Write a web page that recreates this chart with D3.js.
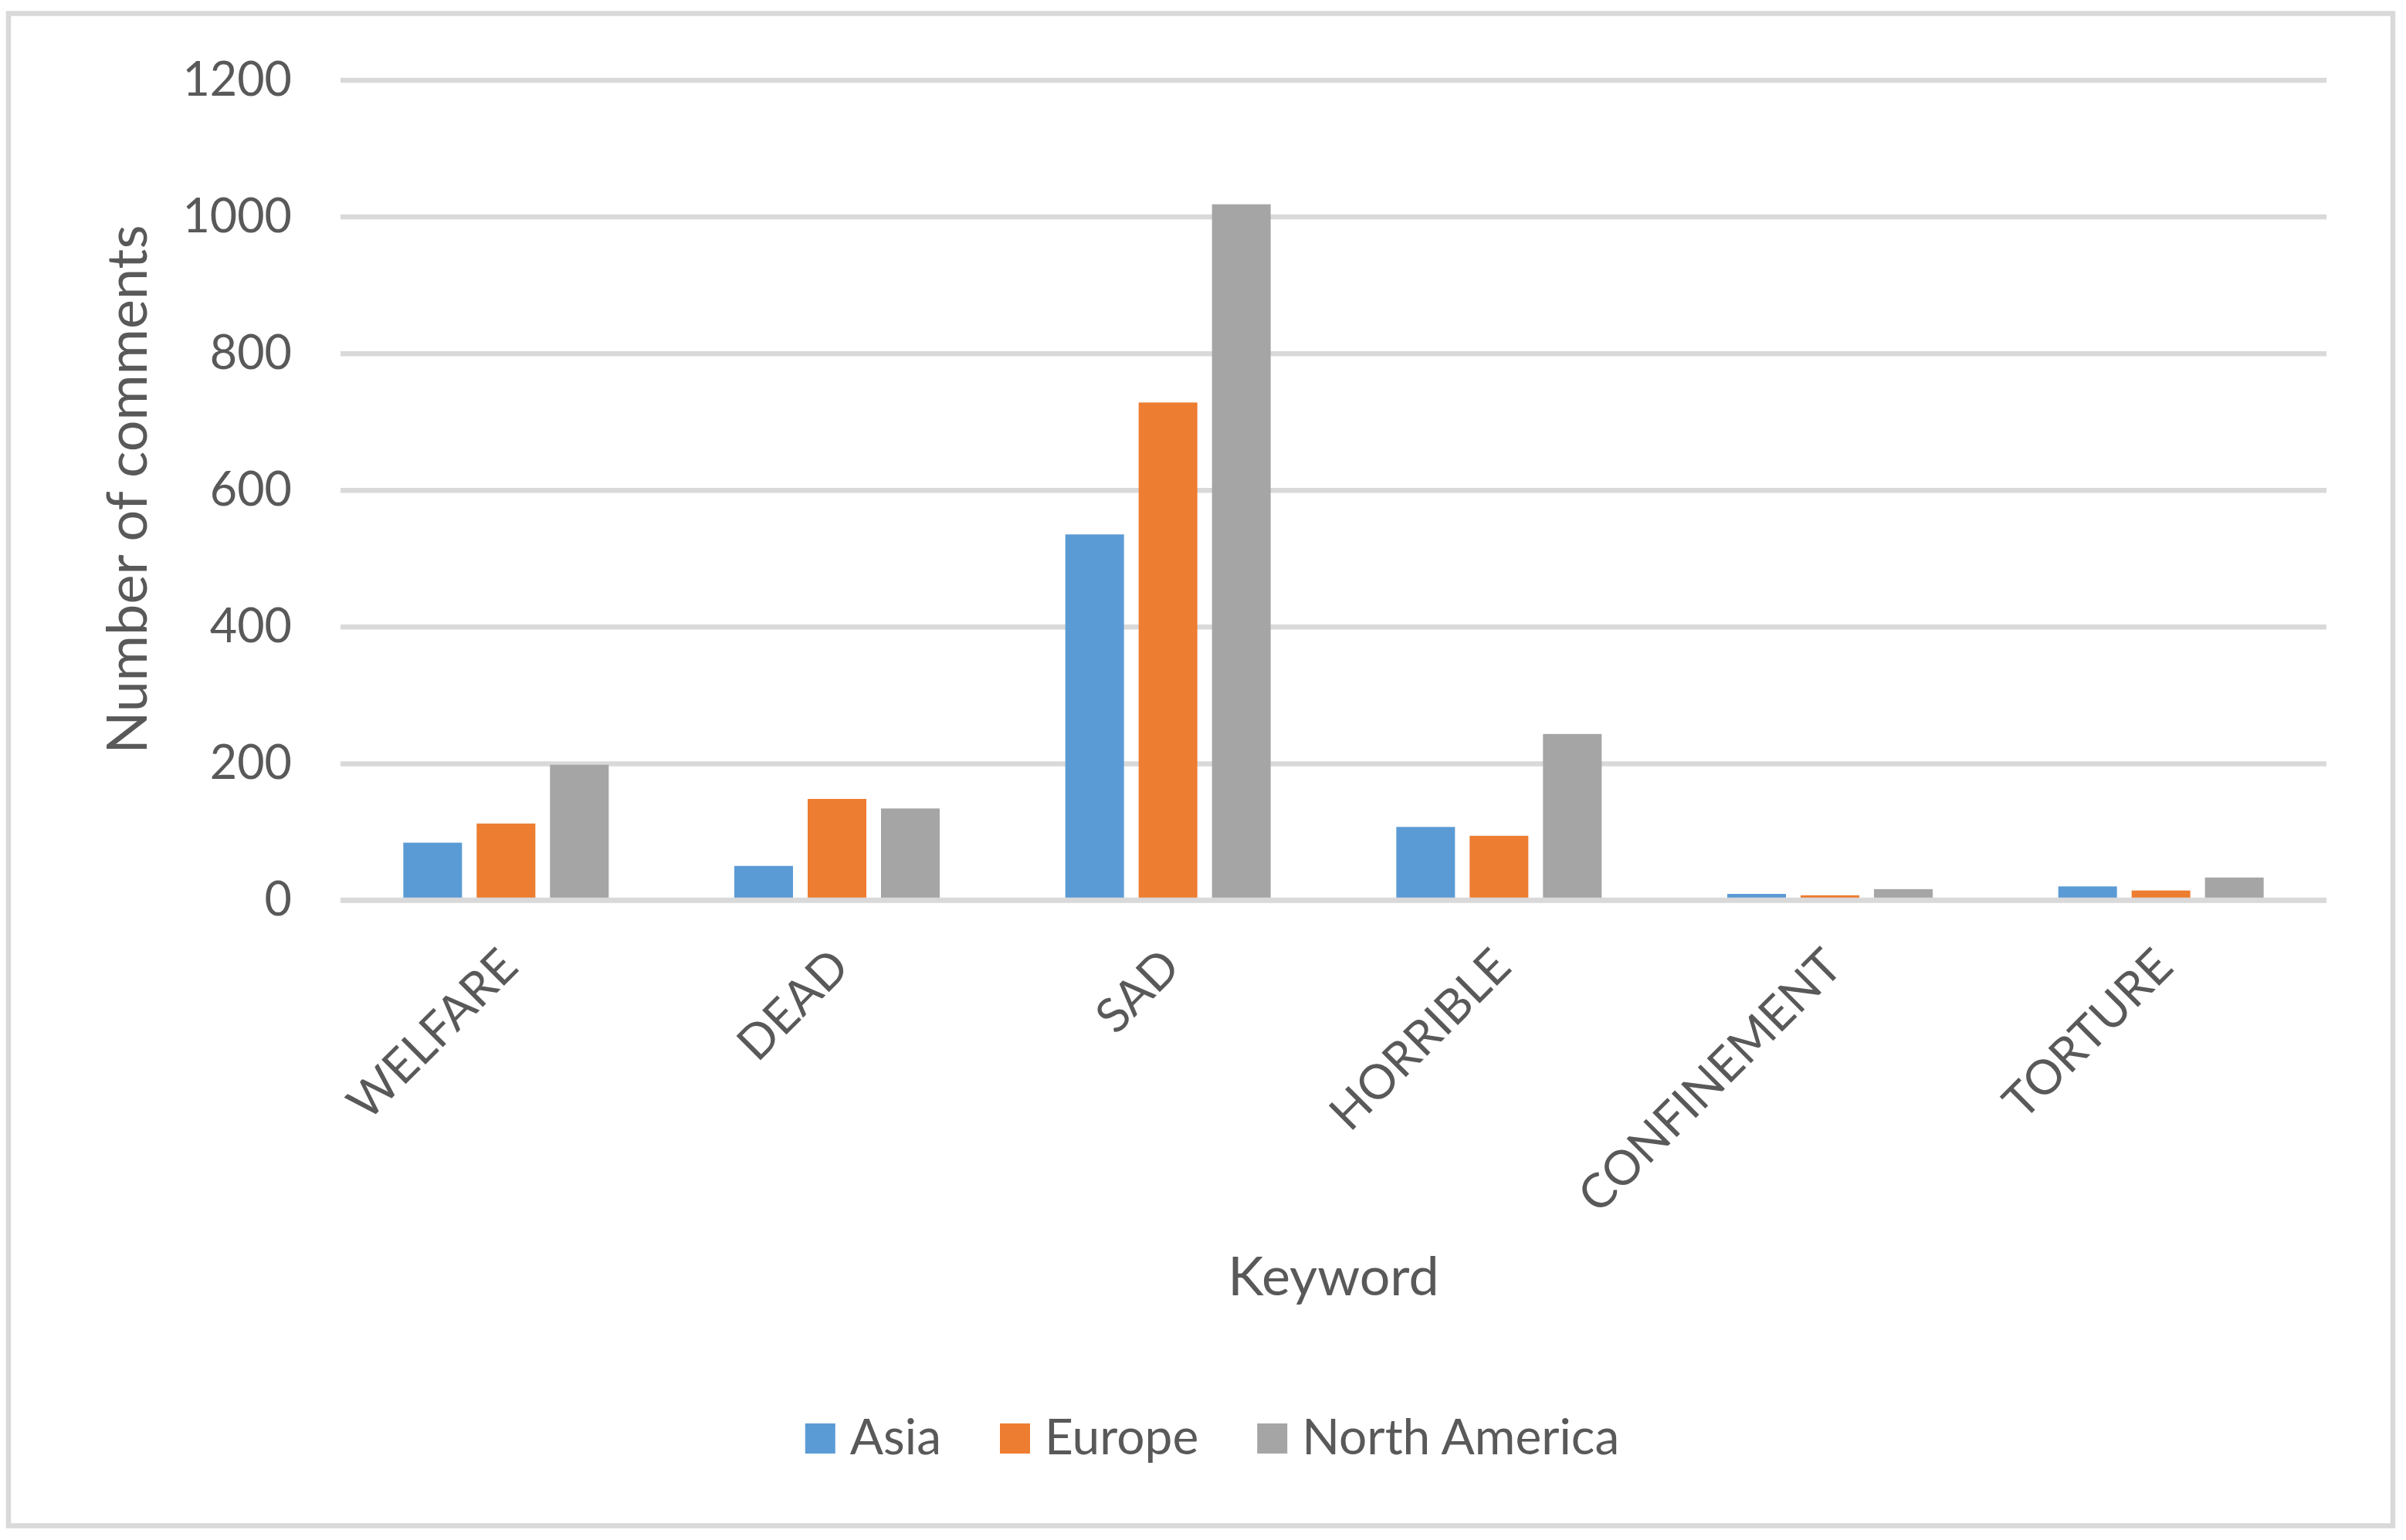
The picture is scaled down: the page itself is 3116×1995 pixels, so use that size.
<!DOCTYPE html>
<html lang="en">
<head>
<meta charset="UTF-8">
<title>Number of comments by keyword</title>
<script src="https://cdn.jsdelivr.net/npm/d3@7"></script>
<style>
  body { margin: 0; background: #fff; }
  text { font-family: Lato, "Open Sans", sans-serif; fill: #595959; }
</style>
</head>
<body>
<div id="chart"></div>
<script>
// Data
const keywords = ["WELFARE", "DEAD", "SAD", "HORRIBLE", "CONFINEMENT", "TORTURE"];
const regions = ["Asia", "Europe", "North America"];
const asia = [84, 50, 535, 107, 9, 20];
const europe = [112, 148, 728, 94, 7, 14];
const northAmerica = [198, 134, 1018, 243, 16, 33];
const yTicks = [0, 200, 400, 600, 800, 1000, 1200];

const seriesValues = [asia, europe, northAmerica];
const colors = ["#5B9BD5", "#ED7D31", "#A5A5A5"];

const W = 3116, H = 1995;
const plot = {left: 441, right: 3013, top: 103.5, bottom: 1166};

const svg = d3.select("#chart").append("svg")
    .attr("width", W)
    .attr("height", H);

// outer frame
svg.append("rect")
    .attr("x", 11).attr("y", 17.5)
    .attr("width", 3088).attr("height", 1959)
    .attr("fill", "#fff")
    .attr("stroke", "#d9d9d9")
    .attr("stroke-width", 6.5);

const x0 = d3.scaleBand()
    .domain(keywords)
    .range([plot.left, plot.right])
    .paddingInner(0).paddingOuter(0);

const groupW = x0.bandwidth() * 0.6205;
const x1 = d3.scaleBand()
    .domain(regions)
    .range([0, groupW])
    .paddingInner(0.2).paddingOuter(0);

const y = d3.scaleLinear()
    .domain([0, 1200])
    .range([plot.bottom, plot.top]);

// gridlines + y labels
const yAxis = svg.append("g")
    .attr("transform", `translate(${plot.left},0)`)
    .call(d3.axisLeft(y)
        .tickValues(yTicks)
        .tickSize(-(plot.right - plot.left))
        .tickPadding(63)
        .tickFormat(d3.format("d")));
yAxis.select(".domain").remove();
yAxis.selectAll(".tick line")
    .attr("stroke", "#d9d9d9")
    .attr("stroke-width", 6.5);
yAxis.selectAll(".tick text")
    .style("font-size", "61px")
    .attr("fill", "#595959")
    .style("font-family", "Lato, 'Open Sans', sans-serif");

// bars
const rows = keywords.map((k, i) => ({key: k, vals: regions.map((r, j) => ({region: r, value: seriesValues[j][i], idx: j}))}));

const groups = svg.append("g").selectAll("g")
    .data(rows)
    .join("g")
    .attr("transform", d => `translate(${x0(d.key) + (x0.bandwidth() - groupW) / 2},0)`);

groups.selectAll("rect")
    .data(d => d.vals)
    .join("rect")
    .attr("x", d => x1(d.region))
    .attr("width", x1.bandwidth())
    .attr("y", d => y(d.value))
    .attr("height", d => y(0) - y(d.value))
    .attr("fill", d => colors[d.idx]);

// category axis line
svg.append("line")
    .attr("x1", plot.left).attr("x2", plot.right)
    .attr("y1", y(0)).attr("y2", y(0))
    .attr("stroke", "#d9d9d9")
    .attr("stroke-width", 6.5);

// category labels, rotated
svg.append("g").selectAll("text")
    .data(keywords)
    .join("text")
    .attr("transform", d => `translate(${x0(d) + x0.bandwidth() / 2 + 3},1240) rotate(-45)`)
    .attr("text-anchor", "end")
    .attr("dy", "0.36em")
    .style("font-size", "62px")
    .text(d => d);

// axis titles
svg.append("text")
    .attr("transform", "translate(190,634) rotate(-90)")
    .attr("text-anchor", "middle")
    .style("font-size", "72px")
    .text("Number of comments");

svg.append("text")
    .attr("x", (plot.left + plot.right) / 2)
    .attr("y", 1678)
    .attr("text-anchor", "middle")
    .style("font-size", "70px")
    .text("Keyword");

// legend
const legend = svg.append("g");
let cursor = 0;
regions.forEach((r, i) => {
    const item = legend.append("g").attr("transform", `translate(${cursor},0)`);
    item.append("rect")
        .attr("x", 0).attr("y", 1844)
        .attr("width", 39).attr("height", 39)
        .attr("fill", colors[i]);
    const t = item.append("text")
        .attr("x", 58).attr("y", 1884)
        .style("font-size", "64px")
        .text(r);
    cursor += 58 + t.node().getComputedTextLength() + 76;
});
const legendW = cursor - 76;
legend.attr("transform", `translate(${1570 - legendW / 2},0)`);
</script>
</body>
</html>
